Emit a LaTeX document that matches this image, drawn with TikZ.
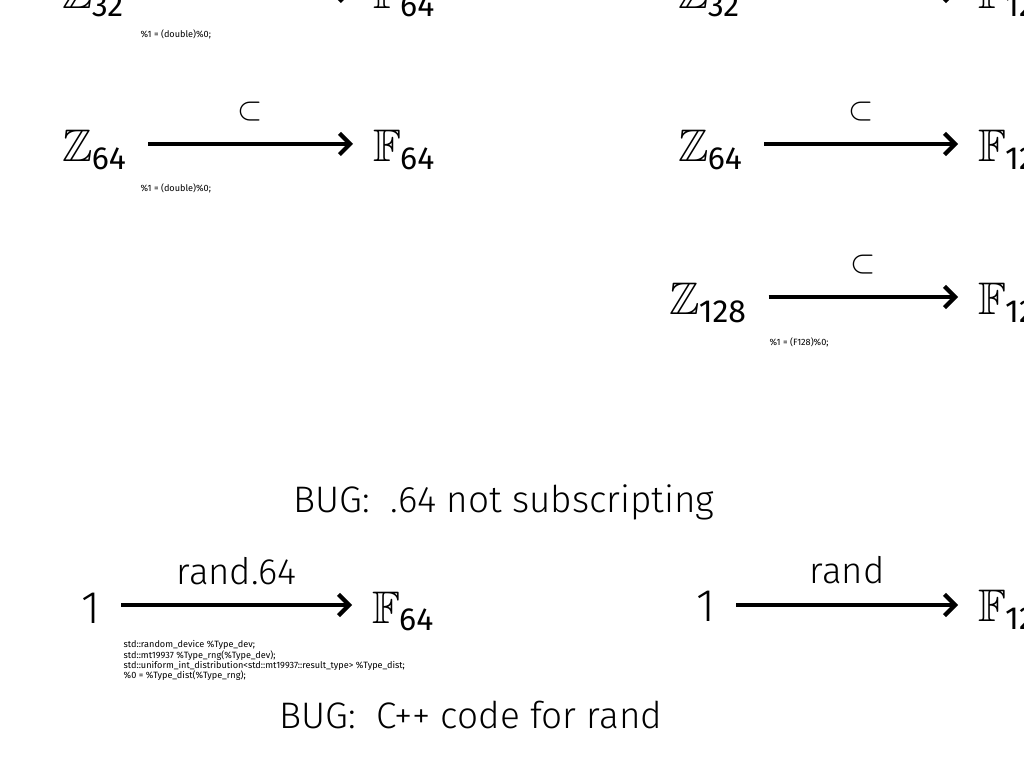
\documentclass[tikz,border=0pt]{standalone}
\usepackage{amsmath,amssymb}
\usepackage{fontspec}
\setmainfont{Fira Sans}
\IfFontExistsTF{Fira Sans Light}{\newfontfamily\lightfont{Fira Sans Light}}{\newfontfamily\lightfont{Fira Sans}}
\usetikzlibrary{arrows.meta}

\begin{document}
\begin{tikzpicture}[x=0.1mm,y=-0.1mm,
        obj/.style={inner xsep=2mm,inner ysep=0pt,font=\fontsize{13}{15}\selectfont},
        arr/.style={line width=1.2pt,-{Straight Barb[length=3pt,width=6pt]}},
        lbl/.style={inner sep=0pt,font=\lightfont\fontsize{10.4}{12}\selectfont},
        incl/.style={inner sep=0pt,font=\fontsize{8.8}{10}\selectfont},
        code/.style={inner sep=0pt,align=left,font=\fontsize{2.6}{2.9}\selectfont},
        bug/.style={inner sep=0pt,font=\lightfont\fontsize{10.5}{12.5}\selectfont}]

            \useasboundingbox (0,0) rectangle (1024,768);
            \clip (0,0) rectangle (1024,768);

            \coordinate (rA) at (0,-9);
            \coordinate (rB) at (0,144);
            \coordinate (rC) at (0,297);
            \coordinate (rR) at (0,605);

            \node[obj,anchor=base west] (zA) at (42,9) {$\mathbb{Z}_{\kern-.4pt\text{32}}$};
            \node[obj,anchor=base west] (fA) at (353,9) {$\mathbb{F}_{\kern-.4pt\text{64}}$};
            \draw[arr] (zA.east |- rA) -- (fA.west |- rA);
            \node[code,anchor=north west] (cA) at (140,29) {\%1 = (double)\%0;};

            \node[obj,anchor=base west] (zB) at (42,162) {$\mathbb{Z}_{\kern-.4pt\text{64}}$};
            \node[obj,anchor=base west] (fB) at (353,162) {$\mathbb{F}_{\kern-.4pt\text{64}}$};
            \draw[arr] (zB.east |- rB) -- node[incl,above=2.1mm] (iB) {$\subset$} (fB.west |- rB);
            \node[code,anchor=north west] (cB) at (140,183) {\%1 = (double)\%0;};

            \node[obj,anchor=base west] (zA2) at (658,9) {$\mathbb{Z}_{\kern-.4pt\text{32}}$};
            \node[obj,anchor=base west] (fA2) at (958,9) {$\mathbb{F}_{\kern-.4pt\text{128}}$};
            \draw[arr] (zA2.east |- rA) -- (fA2.west |- rA);

            \node[obj,anchor=base west] (zB2) at (658,162) {$\mathbb{Z}_{\kern-.4pt\text{64}}$};
            \node[obj,anchor=base west] (fB2) at (958,162) {$\mathbb{F}_{\kern-.4pt\text{128}}$};
            \draw[arr] (zB2.east |- rB) -- node[incl,above=2.1mm] (iB2) {$\subset$} (fB2.west |- rB);

            \node[obj,anchor=base west] (zC2) at (649,315) {$\mathbb{Z}_{\kern-.4pt\text{128}}$};
            \node[obj,anchor=base west] (fC2) at (958,315) {$\mathbb{F}_{\kern-.4pt\text{128}}$};
            \draw[arr] (zC2.east |- rC) -- node[incl,above=2.1mm] (iC2) {$\subset$} (fC2.west |- rC);
            \node[code,anchor=north west] (cC2) at (769,337) {\%1 = (F128)\%0;};

            \node[bug,anchor=base] (bug1) at (504,513) {BUG:\ \ .64 not subscripting};

            \node[obj,anchor=base west] (one) at (61,623) {\lightfont 1};
            \node[obj,anchor=base west] (fR) at (352,623) {$\mathbb{F}_{\kern-.4pt\text{64}}$};
            \draw[arr] (one.east |- rR) -- node[lbl,above=1.8mm] (rnd) {rand.64} (fR.west |- rR);
            \node[code,anchor=north west] (cR) at (123,640) {std::random\_device \%Type\_dev;\\
                std::mt19937 \%Type\_rng(\%Type\_dev);\\
                std::uniform\_int\_distribution<std::mt19937::result\_type> \%Type\_dist;\\
                \%0 = \%Type\_dist(\%Type\_rng);};

            \node[obj,anchor=base west] (one2) at (676,622) {\lightfont 1};
            \node[obj,anchor=base west] (fR2) at (958,622) {$\mathbb{F}_{\kern-.4pt\text{128}}$};
            \draw[arr] (one2.east |- rR) -- node[lbl,above=1.9mm] (rnd2) {rand} (fR2.west |- rR);

            \node[bug,anchor=base] (bug2) at (471,728) {BUG:\ \ C++ code for rand};

\end{tikzpicture}
\end{document}
